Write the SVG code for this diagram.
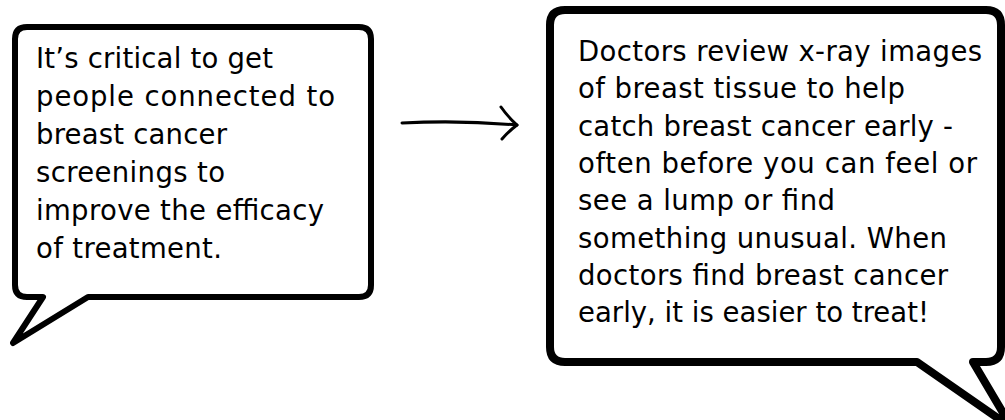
<svg xmlns="http://www.w3.org/2000/svg" width="1005" height="420" viewBox="0 0 1005 420">
<style>
.bubble{fill:#fff;stroke:#000;stroke-linejoin:round;stroke-linecap:round}
.txt{font-family:"DejaVu Sans","Open Sans","Liberation Sans",sans-serif;font-size:27.5px;fill:#000}
.conn{fill:none;stroke:#000;stroke-width:3;stroke-linecap:round;stroke-linejoin:round}
</style>
<rect width="1005" height="420" fill="#fff"/>
<g id="node-left">
<path class="bubble" stroke-width="6" d="M27,27 H359 Q371,27 371,39 V285 Q371,297 359,297 H88 L13,343 L43,297 H27 Q15,297 15,285 V39 Q15,27 27,27 Z"/>
<text class="txt">
<tspan x="36" y="68" textLength="237" lengthAdjust="spacing">It’s critical to get</tspan>
<tspan x="36" y="106" textLength="299" lengthAdjust="spacing">people connected to</tspan>
<tspan x="36" y="144" textLength="191" lengthAdjust="spacing">breast cancer</tspan>
<tspan x="36" y="182" textLength="189" lengthAdjust="spacing">screenings to</tspan>
<tspan x="36" y="220" textLength="288" lengthAdjust="spacing">improve the efficacy</tspan>
<tspan x="36" y="258" textLength="186" lengthAdjust="spacing">of treatment.</tspan>
</text>
</g>
<g id="node-right">
<path class="bubble" stroke-width="8" d="M565,10 H986 Q1001,10 1001,25 V347 Q1001,362 986,362 H973 L1012,428 L917,362 H565 Q550,362 550,347 V25 Q550,10 565,10 Z"/>
<text class="txt">
<tspan x="578" y="61" textLength="404" lengthAdjust="spacing">Doctors review x-ray images</tspan>
<tspan x="578" y="98" textLength="327" lengthAdjust="spacing">of breast tissue to help</tspan>
<tspan x="578" y="136" textLength="375" lengthAdjust="spacing">catch breast cancer early -</tspan>
<tspan x="578" y="173" textLength="399" lengthAdjust="spacing">often before you can feel or</tspan>
<tspan x="578" y="210" textLength="257" lengthAdjust="spacing">see a lump or find</tspan>
<tspan x="578" y="248" textLength="369" lengthAdjust="spacing">something unusual. When</tspan>
<tspan x="578" y="285" textLength="370" lengthAdjust="spacing">doctors find breast cancer</tspan>
<tspan x="578" y="322" textLength="351" lengthAdjust="spacing">early, it is easier to treat!</tspan>
</text>
</g>
<g id="connectors">
<path class="conn" d="M402,123 Q460,120 517,125"/>
<path class="conn" d="M501,107 Q508,117 517,125 Q509,131 502,139"/>
</g>
</svg>
